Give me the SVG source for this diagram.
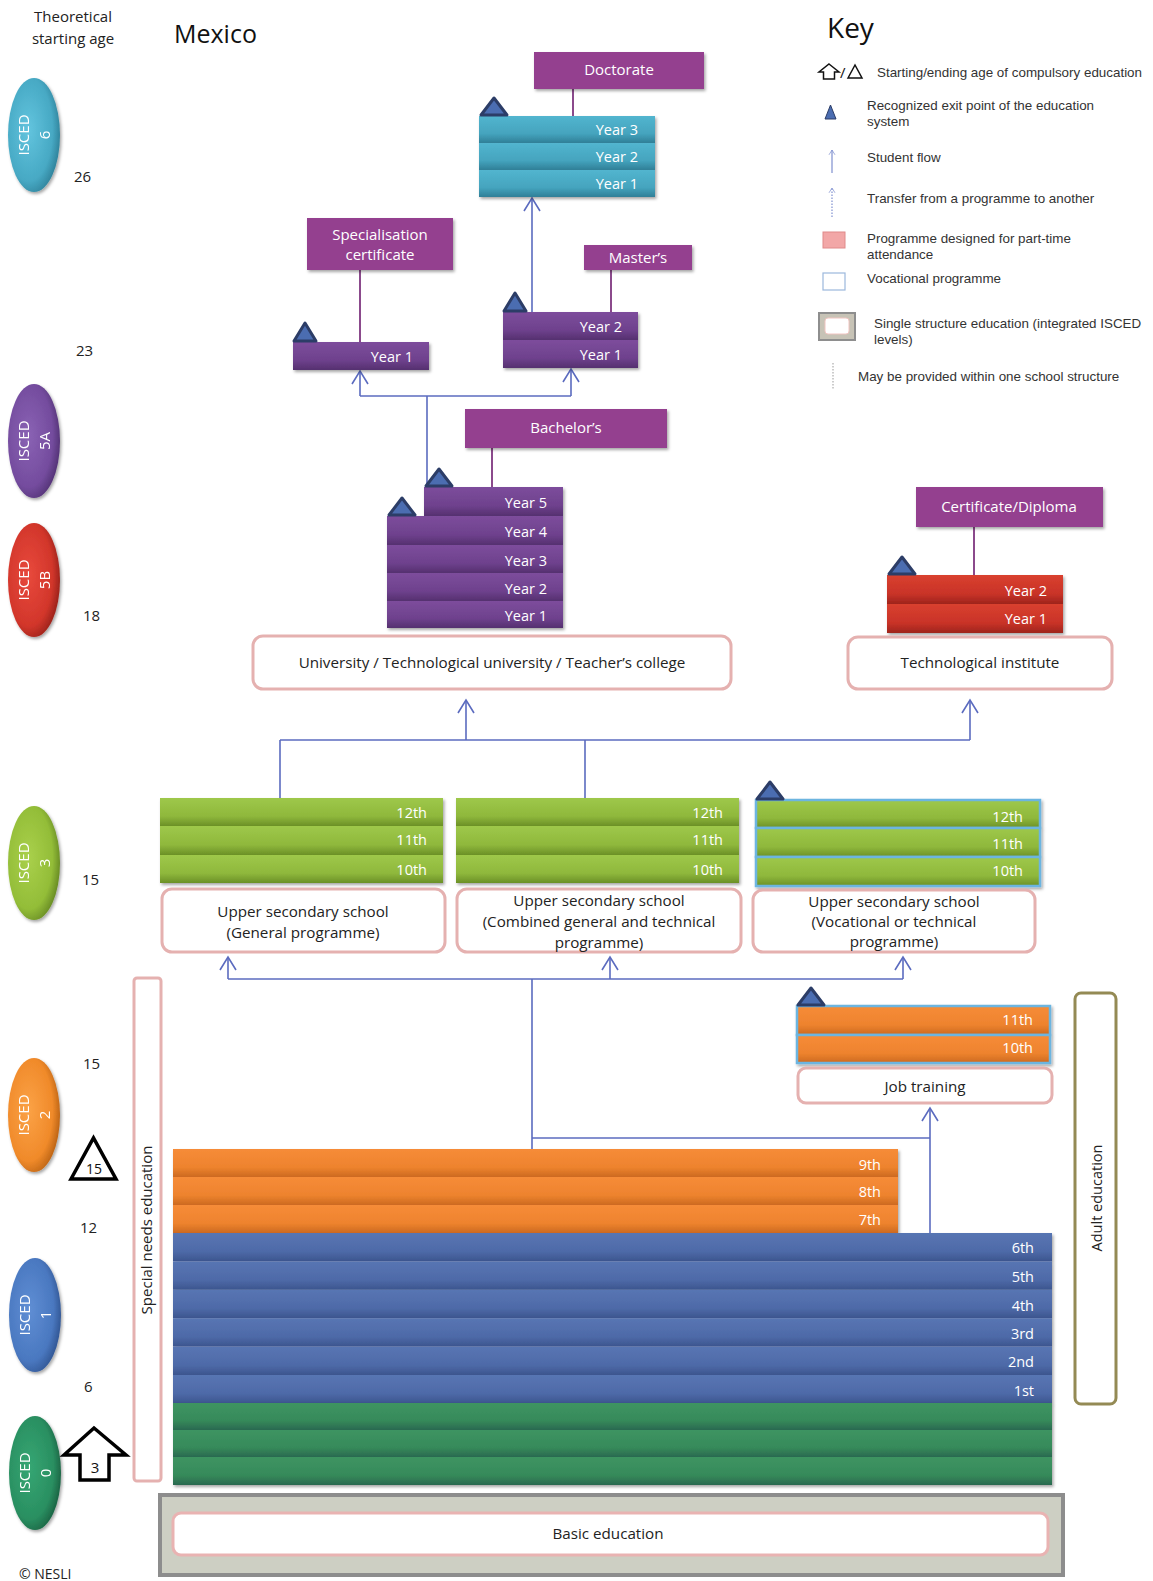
<svg xmlns="http://www.w3.org/2000/svg" width="1153" height="1581" viewBox="0 0 1153 1581">
<style>
text{font-family:"Open Sans","Liberation Sans",sans-serif}
.k{font-family:"Liberation Sans",Arial,sans-serif;font-size:13.4px;fill:#333}
.rt{font-size:14.5px;fill:#fff;text-anchor:end}
.lbt{font-size:15px;fill:#fff;text-anchor:middle}
.bt{font-size:15.2px;fill:#222;text-anchor:middle}
.age{font-size:15px;fill:#222}
.is{font-size:15px;fill:#fff;text-anchor:middle}
.lb{fill:#94418f}
.box{fill:#fff;stroke:#e5b1b0;stroke-width:3}
.voc{stroke:#6cb5e0;stroke-width:2.5}
.ex{fill:#4b6db1;stroke:#2c3d67;stroke-width:3;stroke-linejoin:round}
.fl{fill:none;stroke:#5b6bbf;stroke-width:1.6}
.pl{fill:none;stroke:#8b4a8c;stroke-width:2}
</style>
<defs>
<filter id="sh" x="-10%" y="-10%" width="130%" height="140%"><feDropShadow dx="1.5" dy="2" stdDeviation="1.5" flood-color="#000" flood-opacity="0.35"/></filter>
<linearGradient id="gTeal" x1="0" y1="0" x2="0" y2="1"><stop offset="0" stop-color="#52b5cf"/><stop offset="0.65" stop-color="#45a4be"/><stop offset="1" stop-color="#2f7f97"/></linearGradient>
<linearGradient id="gPur" x1="0" y1="0" x2="0" y2="1"><stop offset="0" stop-color="#7d4d9c"/><stop offset="0.65" stop-color="#6e418d"/><stop offset="1" stop-color="#55306f"/></linearGradient>
<linearGradient id="gRed" x1="0" y1="0" x2="0" y2="1"><stop offset="0" stop-color="#d9402f"/><stop offset="0.65" stop-color="#c93328"/><stop offset="1" stop-color="#9e241c"/></linearGradient>
<linearGradient id="gLime" x1="0" y1="0" x2="0" y2="1"><stop offset="0" stop-color="#9ec84a"/><stop offset="0.65" stop-color="#8fb83c"/><stop offset="1" stop-color="#6b9027"/></linearGradient>
<linearGradient id="gOr" x1="0" y1="0" x2="0" y2="1"><stop offset="0" stop-color="#f68c38"/><stop offset="0.65" stop-color="#ee832e"/><stop offset="1" stop-color="#cc6a20"/></linearGradient>
<linearGradient id="gBlue" x1="0" y1="0" x2="0" y2="1"><stop offset="0" stop-color="#5875b3"/><stop offset="0.65" stop-color="#4e6aa8"/><stop offset="1" stop-color="#3c558e"/></linearGradient>
<linearGradient id="gGrn" x1="0" y1="0" x2="0" y2="1"><stop offset="0" stop-color="#3e9462"/><stop offset="0.65" stop-color="#368a5a"/><stop offset="1" stop-color="#2a6950"/></linearGradient>
<radialGradient id="o6" cx="0.4" cy="0.45" r="0.65"><stop offset="0" stop-color="#62c4de"/><stop offset="0.7" stop-color="#47a9c4"/><stop offset="1" stop-color="#2b7a92"/></radialGradient>
<radialGradient id="o5a" cx="0.4" cy="0.45" r="0.65"><stop offset="0" stop-color="#8a62b4"/><stop offset="0.7" stop-color="#744c9e"/><stop offset="1" stop-color="#4c2d6d"/></radialGradient>
<radialGradient id="o5b" cx="0.4" cy="0.45" r="0.65"><stop offset="0" stop-color="#e8493c"/><stop offset="0.7" stop-color="#d2362b"/><stop offset="1" stop-color="#8e1e17"/></radialGradient>
<radialGradient id="o3" cx="0.4" cy="0.45" r="0.65"><stop offset="0" stop-color="#a9d04b"/><stop offset="0.7" stop-color="#93bd38"/><stop offset="1" stop-color="#5e8020"/></radialGradient>
<radialGradient id="o2" cx="0.4" cy="0.45" r="0.65"><stop offset="0" stop-color="#fba246"/><stop offset="0.7" stop-color="#f08a2a"/><stop offset="1" stop-color="#b05b10"/></radialGradient>
<radialGradient id="o1" cx="0.4" cy="0.45" r="0.65"><stop offset="0" stop-color="#5f8ed4"/><stop offset="0.7" stop-color="#4a78c0"/><stop offset="1" stop-color="#2c4f8a"/></radialGradient>
<radialGradient id="o0" cx="0.4" cy="0.45" r="0.65"><stop offset="0" stop-color="#35a673"/><stop offset="0.7" stop-color="#2a8f61"/><stop offset="1" stop-color="#185a3d"/></radialGradient>
<marker id="ar" viewBox="-5 0 20 20" markerWidth="20" markerHeight="20" refX="10" refY="10" orient="auto" markerUnits="userSpaceOnUse"><path d="M-3,2 L10,10 L-3,18" fill="none" stroke="#5b6bbf" stroke-width="1.6"/></marker>
<marker id="ark" viewBox="-5 0 20 20" markerWidth="12" markerHeight="12" refX="10" refY="10" orient="auto" markerUnits="userSpaceOnUse"><path d="M2,5 L10,10 L2,15" fill="none" stroke="#7f8fcf" stroke-width="1.2"/></marker>
</defs>

<!-- Header -->
<g id="header">
<text x="73" y="22" class="age" text-anchor="middle">Theoretical</text>
<text x="73" y="44" class="age" text-anchor="middle">starting age</text>
<text x="174" y="43" font-size="25" fill="#111">Mexico</text>
<text x="19" y="1579" font-size="14" fill="#222">© NESLI</text>
</g>

<!-- ISCED ovals -->
<g id="isced-ovals" filter="url(#sh)">
<g id="oval-6"><ellipse cx="34" cy="135" rx="26" ry="57" fill="url(#o6)"/><g transform="translate(34,135) rotate(-90)"><text class="is" y="-5">ISCED</text><text class="is" y="16">6</text></g></g>
<g id="oval-5a"><ellipse cx="34" cy="441" rx="26" ry="57" fill="url(#o5a)"/><g transform="translate(34,441) rotate(-90)"><text class="is" y="-5">ISCED</text><text class="is" y="16">5A</text></g></g>
<g id="oval-5b"><ellipse cx="34" cy="580" rx="26" ry="57" fill="url(#o5b)"/><g transform="translate(34,580) rotate(-90)"><text class="is" y="-5">ISCED</text><text class="is" y="16">5B</text></g></g>
<g id="oval-3"><ellipse cx="34" cy="863" rx="26" ry="57" fill="url(#o3)"/><g transform="translate(34,863) rotate(-90)"><text class="is" y="-5">ISCED</text><text class="is" y="16">3</text></g></g>
<g id="oval-2"><ellipse cx="34" cy="1115" rx="26" ry="57" fill="url(#o2)"/><g transform="translate(34,1115) rotate(-90)"><text class="is" y="-5">ISCED</text><text class="is" y="16">2</text></g></g>
<g id="oval-1"><ellipse cx="35" cy="1315" rx="26" ry="57" fill="url(#o1)"/><g transform="translate(35,1315) rotate(-90)"><text class="is" y="-5">ISCED</text><text class="is" y="16">1</text></g></g>
<g id="oval-0"><ellipse cx="35" cy="1473" rx="26" ry="57" fill="url(#o0)"/><g transform="translate(35,1473) rotate(-90)"><text class="is" y="-5">ISCED</text><text class="is" y="16">0</text></g></g>
</g>

<!-- Ages -->
<g id="ages">
<text x="74" y="182" class="age">26</text>
<text x="76" y="356" class="age">23</text>
<text x="83" y="621" class="age">18</text>
<text x="82" y="885" class="age">15</text>
<text x="83" y="1069" class="age">15</text>
<text x="80" y="1233" class="age">12</text>
<text x="84" y="1392" class="age">6</text>
</g>
<g id="compulsory-end">
<polygon points="71,1179 93.5,1138 116,1179" fill="#fff" stroke="#000" stroke-width="3.5" stroke-linejoin="miter"/>
<text x="94" y="1174" font-size="14" fill="#111" text-anchor="middle">15</text>
</g>
<g id="compulsory-start">
<path d="M94,1428 L126,1455 L109,1455 L109,1480 L80,1480 L80,1455 L64,1455 Z" fill="#fff" stroke="#000" stroke-width="3.5"/>
<text x="95" y="1473" font-size="15" fill="#111" text-anchor="middle">3</text>
</g>

<!-- Key -->
<g id="key">
<text x="827" y="38" font-size="28" fill="#111">Key</text>
<path d="M829,64 L839,72 L834.5,72 L834.5,79 L823.5,79 L823.5,72 L819,72 Z" fill="none" stroke="#111" stroke-width="1.5"/>
<text x="840" y="78" font-size="15" fill="#111" font-family="Liberation Sans,sans-serif">/</text>
<polygon points="848,78 855,65 862,78" fill="none" stroke="#111" stroke-width="1.5"/>
<text x="877" y="77" class="k">Starting/ending age of compulsory education</text>
<polygon points="825,119 830.5,105 836,119" fill="#4b6db1" stroke="#2c3d67" stroke-width="1"/>
<text x="867" y="110" class="k">Recognized exit point of the education</text>
<text x="867" y="126" class="k">system</text>
<line x1="832" y1="173" x2="832" y2="150" stroke="#7f8fcf" stroke-width="1.2" marker-end="url(#ark)"/>
<text x="867" y="162" class="k">Student flow</text>
<line x1="832" y1="217" x2="832" y2="188" stroke="#7f8fcf" stroke-width="1.2" stroke-dasharray="1.5,1.5" marker-end="url(#ark)"/>
<text x="867" y="203" class="k">Transfer from a programme to another</text>
<rect x="823" y="232" width="22" height="16" fill="#f2a7a7" stroke="#e08a8a" stroke-width="1"/>
<text x="867" y="243" class="k">Programme designed for part-time</text>
<text x="867" y="259" class="k">attendance</text>
<rect x="823" y="273" width="22" height="17" fill="#fff" stroke="#9cb8dc" stroke-width="1.2"/>
<text x="867" y="283" class="k">Vocational programme</text>
<rect x="819" y="313" width="36" height="27" fill="#c7c3b6" stroke="#8e8e8e" stroke-width="2"/>
<rect x="825" y="318" width="24" height="16" rx="3" fill="#fff" stroke="#f0c4c0" stroke-width="1"/>
<text x="874" y="328" class="k">Single structure education (integrated ISCED</text>
<text x="874" y="344" class="k">levels)</text>
<line x1="833" y1="363" x2="833" y2="390" stroke="#999" stroke-width="1" stroke-dasharray="1.5,1.5"/>
<text x="858" y="381" class="k">May be provided within one school structure</text>
</g>

<!-- Connectors -->
<g id="connectors">
<line class="pl" x1="573" y1="89" x2="573" y2="116"/>
<line class="pl" x1="360" y1="270" x2="360" y2="342"/>
<line class="pl" x1="611" y1="270" x2="611" y2="312"/>
<line class="pl" x1="492" y1="448" x2="492" y2="487"/>
<line class="pl" x1="974" y1="527" x2="974" y2="575"/>
<line class="fl" x1="532" y1="312" x2="532" y2="198" marker-end="url(#ar)"/>
<polyline class="fl" points="427,487 427,396"/>
<polyline class="fl" points="360,396 571,396"/>
<line class="fl" x1="360" y1="396" x2="360" y2="371" marker-end="url(#ar)"/>
<line class="fl" x1="571" y1="396" x2="571" y2="369" marker-end="url(#ar)"/>
<line class="fl" x1="280" y1="798" x2="280" y2="740"/>
<line class="fl" x1="585" y1="798" x2="585" y2="740"/>
<line class="fl" x1="280" y1="740" x2="970" y2="740"/>
<line class="fl" x1="466" y1="740" x2="466" y2="700" marker-end="url(#ar)"/>
<line class="fl" x1="970" y1="740" x2="970" y2="700" marker-end="url(#ar)"/>
<line class="fl" x1="228" y1="979" x2="903" y2="979"/>
<line class="fl" x1="228" y1="979" x2="228" y2="957" marker-end="url(#ar)"/>
<line class="fl" x1="610" y1="979" x2="610" y2="957" marker-end="url(#ar)"/>
<line class="fl" x1="903" y1="979" x2="903" y2="957" marker-end="url(#ar)"/>
<line class="fl" x1="532" y1="1149" x2="532" y2="979"/>
<line class="fl" x1="532" y1="1138" x2="930" y2="1138"/>
<line class="fl" x1="930" y1="1233" x2="930" y2="1108" marker-end="url(#ar)"/>
</g>

<!-- ISCED 6 -->
<g id="doctorate-label"><rect class="lb" x="534" y="52" width="170" height="37" filter="url(#sh)"/><text class="lbt" x="619" y="75">Doctorate</text></g>
<g id="doctorate-stack">
<g filter="url(#sh)"><rect x="479" y="116" width="176" height="27" fill="url(#gTeal)"/><rect x="479" y="143" width="176" height="27" fill="url(#gTeal)"/><rect x="479" y="170" width="176" height="27" fill="url(#gTeal)"/></g>
<text class="rt" x="638" y="135">Year 3</text><text class="rt" x="638" y="162">Year 2</text><text class="rt" x="638" y="189">Year 1</text>
<polygon class="ex" points="481,115 494,98 507,115"/>
</g>

<!-- ISCED 5A -->
<g id="specialisation-label"><rect class="lb" x="307" y="218" width="146" height="52" filter="url(#sh)"/><text class="lbt" x="380" y="240">Specialisation</text><text class="lbt" x="380" y="260">certificate</text></g>
<g id="specialisation-stack">
<rect x="293" y="342" width="136" height="28" fill="url(#gPur)" filter="url(#sh)"/>
<text class="rt" x="413" y="362">Year 1</text>
<polygon class="ex" points="294,341 305,323 316,341"/>
</g>
<g id="masters-label"><rect class="lb" x="584" y="245" width="108" height="25" filter="url(#sh)"/><text class="lbt" x="638" y="263">Master’s</text></g>
<g id="masters-stack">
<g filter="url(#sh)"><rect x="503" y="312" width="135" height="28" fill="url(#gPur)"/><rect x="503" y="340" width="135" height="28" fill="url(#gPur)"/></g>
<text class="rt" x="622" y="332">Year 2</text><text class="rt" x="622" y="360">Year 1</text>
<polygon class="ex" points="504,311 515,293 526,311"/>
</g>
<g id="bachelors-label"><rect class="lb" x="465" y="409" width="202" height="39" filter="url(#sh)"/><text class="lbt" x="566" y="433">Bachelor’s</text></g>
<g id="bachelors-stack">
<g filter="url(#sh)">
<rect x="424" y="487" width="139" height="29" fill="url(#gPur)"/>
<rect x="387" y="516" width="176" height="29" fill="url(#gPur)"/>
<rect x="387" y="545" width="176" height="28" fill="url(#gPur)"/>
<rect x="387" y="573" width="176" height="28" fill="url(#gPur)"/>
<rect x="387" y="601" width="176" height="27" fill="url(#gPur)"/>
</g>
<text class="rt" x="547" y="508">Year 5</text><text class="rt" x="547" y="537">Year 4</text><text class="rt" x="547" y="566">Year 3</text><text class="rt" x="547" y="594">Year 2</text><text class="rt" x="547" y="621">Year 1</text>
<polygon class="ex" points="426,486 439,469 452,486"/>
<polygon class="ex" points="389,515 402,498 415,515"/>
</g>
<g id="university"><rect class="box" x="253" y="636" width="478" height="53" rx="10"/><text class="bt" x="492" y="668" font-size="15.7">University / Technological university  / Teacher’s college</text></g>

<!-- ISCED 5B -->
<g id="certificate-label"><rect class="lb" x="916" y="487" width="187" height="40" filter="url(#sh)"/><text class="lbt" x="1009" y="512">Certificate/Diploma</text></g>
<g id="tech-stack">
<g filter="url(#sh)"><rect x="887" y="575" width="176" height="29" fill="url(#gRed)"/><rect x="887" y="604" width="176" height="29" fill="url(#gRed)"/></g>
<text class="rt" x="1047" y="596">Year 2</text><text class="rt" x="1047" y="624">Year 1</text>
<polygon class="ex" points="889,574 902,557 915,574"/>
</g>
<g id="tech-institute"><rect class="box" x="848" y="637" width="264" height="52" rx="10"/><text class="bt" x="980" y="668">Technological institute</text></g>

<!-- ISCED 3 -->
<g id="usg-stack">
<g filter="url(#sh)"><rect x="160" y="798" width="283" height="28" fill="url(#gLime)"/><rect x="160" y="826" width="283" height="29" fill="url(#gLime)"/><rect x="160" y="855" width="283" height="28" fill="url(#gLime)"/></g>
<text class="rt" x="427" y="818">12th</text><text class="rt" x="427" y="845">11th</text><text class="rt" x="427" y="875">10th</text>
</g>
<g id="usg-box"><rect class="box" x="162" y="889" width="283" height="63" rx="10"/><text class="bt" x="303" y="917">Upper secondary school</text><text class="bt" x="303" y="938">(General programme)</text></g>
<g id="usc-stack">
<g filter="url(#sh)"><rect x="456" y="798" width="283" height="28" fill="url(#gLime)"/><rect x="456" y="826" width="283" height="29" fill="url(#gLime)"/><rect x="456" y="855" width="283" height="28" fill="url(#gLime)"/></g>
<text class="rt" x="723" y="818">12th</text><text class="rt" x="723" y="845">11th</text><text class="rt" x="723" y="875">10th</text>
</g>
<g id="usc-box"><rect class="box" x="457" y="889" width="284" height="63" rx="10"/><text class="bt" x="599" y="906">Upper secondary school</text><text class="bt" x="599" y="927">(Combined general and technical</text><text class="bt" x="599" y="948">programme)</text></g>
<g id="usv-stack">
<g filter="url(#sh)"><rect class="voc" x="756" y="800" width="284" height="28" fill="url(#gLime)"/><rect class="voc" x="756" y="828" width="284" height="29" fill="url(#gLime)"/><rect class="voc" x="756" y="857" width="284" height="29" fill="url(#gLime)"/></g>
<text class="rt" x="1023" y="822">12th</text><text class="rt" x="1023" y="849">11th</text><text class="rt" x="1023" y="876">10th</text>
<polygon class="ex" points="757,799 770,782 783,799"/>
</g>
<g id="usv-box"><rect class="box" x="753" y="890" width="282" height="62" rx="10"/><text class="bt" x="894" y="907">Upper secondary school</text><text class="bt" x="894" y="927">(Vocational  or technical</text><text class="bt" x="894" y="947">programme)</text></g>

<!-- Job training -->
<g id="job-stack">
<g filter="url(#sh)"><rect class="voc" x="797" y="1006" width="253" height="29" fill="url(#gOr)"/><rect class="voc" x="797" y="1035" width="253" height="28" fill="url(#gOr)"/></g>
<text class="rt" x="1033" y="1025">11th</text><text class="rt" x="1033" y="1053">10th</text>
<polygon class="ex" points="798,1005 811,988 824,1005"/>
</g>
<g id="job-box"><rect class="box" x="798" y="1068" width="254" height="35" rx="8"/><text class="bt" x="925" y="1092">Job training</text></g>

<!-- Special needs / Adult -->
<g id="special-needs"><rect x="134" y="978" width="27" height="503" rx="3" fill="#fff" stroke="#e5b1b0" stroke-width="3"/><text transform="translate(152,1230) rotate(-90)" font-size="15" fill="#222" text-anchor="middle">Special needs education</text></g>
<g id="adult-education"><rect x="1075" y="993" width="41" height="411" rx="6" fill="#fff" stroke="#948a54" stroke-width="3"/><text transform="translate(1102,1198) rotate(-90)" font-size="14.5" fill="#222" text-anchor="middle">Adult education</text></g>

<!-- ISCED 2 / 1 / 0 -->
<g id="lower-secondary">
<g filter="url(#sh)"><rect x="173" y="1149" width="725" height="28" fill="url(#gOr)"/><rect x="173" y="1177" width="725" height="28" fill="url(#gOr)"/><rect x="173" y="1205" width="725" height="28" fill="url(#gOr)"/></g>
<text class="rt" x="881" y="1170">9th</text><text class="rt" x="881" y="1197">8th</text><text class="rt" x="881" y="1225">7th</text>
</g>
<g id="primary">
<g filter="url(#sh)">
<rect x="173" y="1233" width="879" height="28.4" fill="url(#gBlue)"/>
<rect x="173" y="1261.4" width="879" height="28.4" fill="url(#gBlue)"/>
<rect x="173" y="1289.8" width="879" height="28.4" fill="url(#gBlue)"/>
<rect x="173" y="1318.2" width="879" height="28.4" fill="url(#gBlue)"/>
<rect x="173" y="1346.6" width="879" height="28.4" fill="url(#gBlue)"/>
<rect x="173" y="1375" width="879" height="28.4" fill="url(#gBlue)"/>
</g>
<text class="rt" x="1034" y="1253">6th</text><text class="rt" x="1034" y="1282">5th</text><text class="rt" x="1034" y="1311">4th</text><text class="rt" x="1034" y="1339">3rd</text><text class="rt" x="1034" y="1367">2nd</text><text class="rt" x="1034" y="1396">1st</text>
</g>
<g id="pre-primary" filter="url(#sh)">
<rect x="173" y="1403" width="879" height="27" fill="url(#gGrn)"/>
<rect x="173" y="1430" width="879" height="27" fill="url(#gGrn)"/>
<rect x="173" y="1457" width="879" height="28" fill="url(#gGrn)"/>
</g>
<g id="basic-education">
<rect x="160" y="1495" width="903" height="80" fill="#cdcfc3" stroke="#8d8d8d" stroke-width="4"/>
<rect x="173" y="1513" width="875" height="42" rx="8" fill="#fff" stroke="#e9b3b2" stroke-width="3"/>
<text class="bt" x="608" y="1539">Basic education</text>
</g>
</svg>
